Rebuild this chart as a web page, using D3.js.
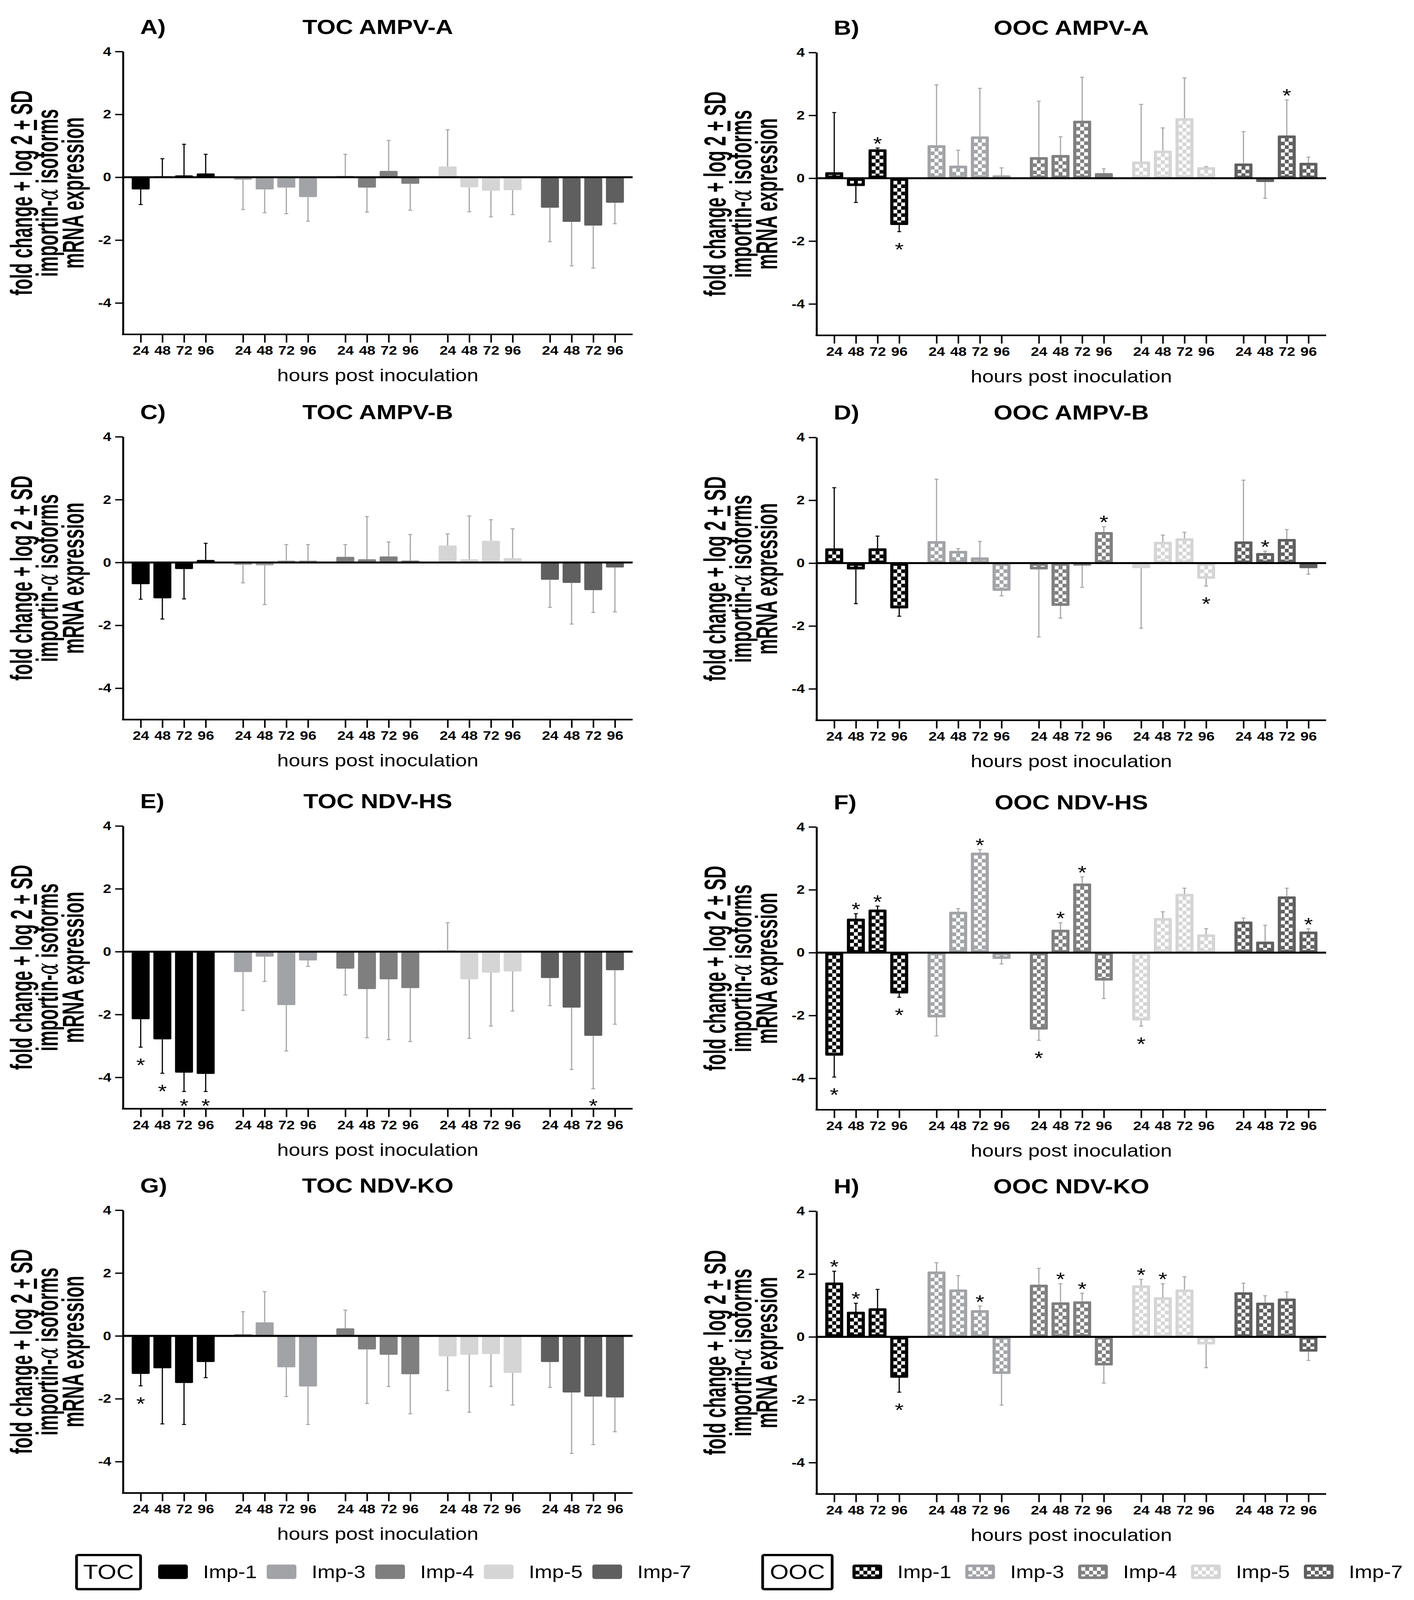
<!DOCTYPE html>
<html>
<head>
<meta charset="utf-8">
<script src="https://cdn.jsdelivr.net/npm/d3@7"></script>
<style>
  html, body { margin: 0; padding: 0; background: #fff; overflow: hidden; }
  svg { display: block; }
  text { font-family: "Liberation Sans", Arial, sans-serif; fill: #000; }
</style>
</head>
<body>
<script>
// categories
var isoforms = ["Imp-1", "Imp-3", "Imp-4", "Imp-5", "Imp-7"];
var hours = ["24", "48", "72", "96"];
var yTicks = [4, 2, 0, -2, -4];
var letters = ["A)", "B)", "C)", "D)", "E)", "F)", "G)", "H)"];
var titles = ["TOC AMPV-A", "OOC AMPV-A", "TOC AMPV-B", "OOC AMPV-B",
              "TOC NDV-HS", "OOC NDV-HS", "TOC NDV-KO", "OOC NDV-KO"];

// mean log2 fold change, one row per isoform, columns 24/48/72/96 h
var meanA = [[-0.39, 0.03, 0.06, 0.12], [-0.08, -0.39, -0.33, -0.63], [0.04, -0.33, 0.20, -0.21], [0.34, -0.32, -0.43, -0.41], [-0.97, -1.42, -1.54, -0.81]];
var sdA   = [[0.48, 0.56, 0.99, 0.61], [0.95, 0.74, 0.83, 0.77], [0.69, 0.78, 0.97, 0.84], [1.17, 0.78, 0.83, 0.78], [1.08, 1.40, 1.35, 0.67]];
var starA = [];

var meanB = [[0.19, -0.25, 0.92, -1.49], [1.05, 0.40, 1.33, 0.09], [0.67, 0.74, 1.83, 0.16], [0.53, 0.88, 1.91, 0.35], [0.47, -0.12, 1.36, 0.49]];
var sdB   = [[1.90, 0.52, 0.04, 0.21], [1.92, 0.49, 1.53, 0.24], [1.78, 0.58, 1.38, 0.14], [1.82, 0.72, 1.28, 0.02], [1.01, 0.52, 1.13, 0.18]];
var starB = [[0, 2], [0, 3], [4, 2]];

var meanC = [[-0.69, -1.14, -0.21, 0.08], [-0.08, -0.09, 0.06, 0.06], [0.18, 0.10, 0.19, 0.06], [0.54, 0.10, 0.69, 0.14], [-0.55, -0.65, -0.88, -0.16]];
var sdC   = [[0.48, 0.66, 0.95, 0.53], [0.57, 1.25, 0.51, 0.51], [0.39, 1.36, 0.46, 0.83], [0.37, 1.38, 0.67, 0.93], [0.88, 1.31, 0.71, 1.41]];
var starC = [];

var meanD = [[0.47, -0.20, 0.47, -1.44], [0.70, 0.39, 0.18, -0.88], [-0.20, -1.36, -0.08, 0.99], [-0.16, 0.68, 0.79, -0.50], [0.69, 0.32, 0.77, -0.16]];
var sdD   = [[1.93, 1.09, 0.39, 0.25], [1.97, 0.07, 0.51, 0.16], [2.15, 0.39, 0.69, 0.17], [1.91, 0.21, 0.19, 0.23], [1.95, 0.06, 0.30, 0.19]];
var starD = [[2, 3], [3, 3], [4, 1]];

var meanE = [[-2.15, -2.79, -3.85, -3.89], [-0.65, -0.16, -1.70, -0.28], [-0.54, -1.19, -0.88, -1.16], [0.05, -0.88, -0.67, -0.63], [-0.84, -1.78, -2.68, -0.59]];
var sdE   = [[0.89, 1.08, 0.60, 0.56], [1.22, 0.79, 1.46, 0.19], [0.84, 1.55, 1.92, 1.70], [0.87, 1.88, 1.70, 1.26], [0.88, 1.97, 1.68, 1.72]];
var starE = [[0, 0], [0, 1], [0, 2], [0, 3], [4, 2]];

var meanF = [[-3.28, 1.08, 1.37, -1.30], [-2.06, 1.30, 3.18, -0.20], [-2.45, 0.73, 2.20, -0.89], [-2.16, 1.10, 1.87, 0.58], [0.99, 0.35, 1.79, 0.67]];
var sdF   = [[0.68, 0.16, 0.11, 0.12], [0.59, 0.10, 0.10, 0.16], [0.34, 0.22, 0.21, 0.57], [0.18, 0.20, 0.18, 0.18], [0.11, 0.52, 0.26, 0.09]];
var starF = [[0, 0], [0, 1], [0, 2], [0, 3], [1, 2], [2, 0], [2, 1], [2, 2], [3, 0], [4, 3]];

var meanG = [[-1.21, -1.03, -1.50, -0.83], [0.06, 0.43, -1.00, -1.61], [0.24, -0.43, -0.60, -1.22], [-0.65, -0.60, -0.58, -1.18], [-0.83, -1.80, -1.93, -1.96]];
var sdG   = [[0.38, 1.77, 1.32, 0.50], [0.71, 0.98, 0.93, 1.21], [0.58, 1.72, 1.01, 1.26], [1.09, 1.83, 1.03, 1.02], [0.81, 1.94, 1.53, 1.09]];
var starG = [[0, 0]];

var meanH = [[1.73, 0.80, 0.91, -1.30], [2.08, 1.51, 0.85, -1.18], [1.66, 1.10, 1.13, -0.91], [1.64, 1.26, 1.51, -0.24], [1.42, 1.09, 1.22, -0.47]];
var sdH   = [[0.36, 0.27, 0.60, 0.46], [0.28, 0.44, 0.13, 0.99], [0.52, 0.59, 0.26, 0.56], [0.19, 0.43, 0.40, 0.74], [0.29, 0.22, 0.21, 0.28]];
var starH = [[0, 0], [0, 1], [0, 3], [1, 2], [2, 1], [2, 2], [3, 0], [3, 1]];

var isoColors = ["#000000", "#a2a3a6", "#7f7f7f", "#d5d5d5", "#5f5f5f"];
var errColor = "#a6a6a6";

function init() {
  var W = 3621, H = 4876;
  var plotW = 1305, plotH = 862;
  var colX0 = [315, 2091];
  var rowTop = [[157, 160], [1331, 1333], [2517, 2520], [3688, 3691]];

  var panels = [
    {mean: meanA, sd: sdA, star: starA}, {mean: meanB, sd: sdB, star: starB},
    {mean: meanC, sd: sdC, star: starC}, {mean: meanD, sd: sdD, star: starD},
    {mean: meanE, sd: sdE, star: starE}, {mean: meanF, sd: sdF, star: starF},
    {mean: meanG, sd: sdG, star: starG}, {mean: meanH, sd: sdH, star: starH}
  ];

  // the viewport is shorter than the figure, so stretch the figure to fill it
  var vw = window.innerWidth || W, vh = window.innerHeight || H;
  var svg = d3.select("body").append("svg")
    .attr("width", vw)
    .attr("height", vh)
    .attr("viewBox", "0 0 " + W + " " + H)
    .attr("preserveAspectRatio", "none");

  // checker patterns for the OOC bars
  var defs = svg.append("defs");
  isoColors.forEach(function(c, i) {
    var p = defs.append("pattern")
      .attr("id", "chk" + i)
      .attr("patternUnits", "userSpaceOnUse")
      .attr("x", 8).attr("y", 8)
      .attr("width", 20).attr("height", 22);
    p.append("rect").attr("width", 20).attr("height", 22).attr("fill", c);
    p.append("rect").attr("width", 10).attr("height", 11).attr("fill", "#fff");
    p.append("rect").attr("x", 10).attr("y", 11).attr("width", 10).attr("height", 11).attr("fill", "#fff");
  });

  panels.forEach(function(p, idx) {
    var col = idx % 2, row = Math.floor(idx / 2);
    var ooc = col === 1;
    var g = svg.append("g")
      .attr("transform", "translate(" + colX0[col] + "," + rowTop[row][col] + ")");

    var y = d3.scaleLinear().domain([-5, 4]).range([plotH, 0]);
    var xg = d3.scaleBand().domain(isoforms).range([0, plotW])
      .paddingInner(0.153).paddingOuter(0.067);
    var xh = d3.scaleBand().domain(hours).range([0, xg.bandwidth()])
      .paddingInner(0.17).paddingOuter(0.085);
    var bw = xh.bandwidth();

    var rows = [];
    isoforms.forEach(function(iso, k) {
      hours.forEach(function(h, j) {
        var s = p.star.some(function(a) { return a[0] === k && a[1] === j; });
        rows.push({iso: iso, k: k, h: h, v: p.mean[k][j], sd: p.sd[k][j], star: s});
      });
    });

    // bars
    var bars = g.selectAll(".bar")
      .data(rows)
      .enter()
      .append("g")
      .attr("class", "bar")
      .attr("transform", function(d) {
        return "translate(" + (xg(d.iso) + xh(d.h)) + "," + Math.min(y(0), y(d.v)) + ")";
      });
    bars.append("rect")
      .attr("width", bw)
      .attr("height", function(d) { return Math.abs(y(d.v) - y(0)); })
      .attr("rx", 3)
      .attr("fill", function(d) { return isoColors[d.k]; });
    if (ooc) {
      bars.append("rect")
        .attr("x", 8).attr("y", 8)
        .attr("width", bw - 16)
        .attr("height", function(d) { return Math.max(0, Math.abs(y(d.v) - y(0)) - 16); })
        .attr("fill", function(d) { return "url(#chk" + d.k + ")"; });
    }

    // one-sided error bars
    function errEnd(d) {
      return d.v >= 0 ? d.v + d.sd : d.v - d.sd;
    }
    function cx(d) { return xg(d.iso) + xh(d.h) + bw / 2; }
    var err = g.selectAll(".err")
      .data(rows)
      .enter()
      .append("g")
      .attr("class", "err")
      .attr("stroke", function(d) { return d.k === 0 ? "#000" : errColor; })
      .attr("stroke-width", 3);
    err.append("line")
      .attr("x1", cx).attr("x2", cx)
      .attr("y1", function(d) { return y(d.v); })
      .attr("y2", function(d) { return y(errEnd(d)); });
    err.append("line")
      .attr("x1", function(d) { return cx(d) - 5; })
      .attr("x2", function(d) { return cx(d) + 5; })
      .attr("y1", function(d) { return y(errEnd(d)); })
      .attr("y2", function(d) { return y(errEnd(d)); });

    // significance stars
    g.selectAll(".star")
      .data(rows.filter(function(d) { return d.star; }))
      .enter()
      .append("text")
      .attr("class", "star")
      .attr("text-anchor", "middle")
      .attr("font-size", 58)
      .attr("x", cx)
      .attr("y", function(d) {
        var c = d.v >= 0 ? y(errEnd(d)) - 28 : Math.min(y(errEnd(d)) + 40, plotH - 24);
        return c + 34;
      })
      .text("*");

    // zero line
    g.append("line")
      .attr("x1", 0).attr("x2", plotW)
      .attr("y1", y(0)).attr("y2", y(0))
      .attr("stroke", "#000")
      .attr("stroke-width", 6);

    // y axis
    var ya = g.append("g")
      .call(d3.axisLeft(y).tickValues(yTicks).tickSize(20).tickSizeOuter(0).tickPadding(10)
        .tickFormat(function(d) { return String(d); }));
    ya.select(".domain").attr("stroke-width", 5);
    ya.selectAll(".tick line").attr("stroke-width", 4);
    ya.selectAll(".tick text")
      .attr("font-size", 38)
      .attr("font-weight", "bold")
      .attr("font-family", "Liberation Sans, Arial, sans-serif")
      .attr("fill", "#000");

    // x axis (one tick per bar)
    var keys = [], centers = [];
    isoforms.forEach(function(iso) {
      hours.forEach(function(h) {
        keys.push(iso + "|" + h);
        centers.push(xg(iso) + xh(h) + bw / 2);
      });
    });
    var xTick = d3.scaleOrdinal().domain(keys).range(centers);
    var xa = g.append("g")
      .attr("transform", "translate(0," + plotH + ")")
      .call(d3.axisBottom(xTick).tickSize(25).tickPadding(10)
        .tickFormat(function(d) { return d.split("|")[1]; }));
    xa.select(".domain").remove();
    xa.selectAll(".tick line").attr("stroke-width", 4);
    xa.selectAll(".tick text")
      .attr("font-size", 38)
      .attr("font-weight", "bold")
      .attr("font-family", "Liberation Sans, Arial, sans-serif")
      .attr("fill", "#000");
    g.append("line")
      .attr("x1", -2.5).attr("x2", plotW)
      .attr("y1", plotH).attr("y2", plotH)
      .attr("stroke", "#000")
      .attr("stroke-width", 5);

    // titles
    g.append("text")
      .attr("x", 44).attr("y", -54)
      .attr("font-size", 62)
      .attr("font-weight", "bold")
      .text(letters[idx]);
    g.append("text")
      .attr("x", plotW / 2).attr("y", -54)
      .attr("text-anchor", "middle")
      .attr("font-size", 62)
      .attr("font-weight", "bold")
      .text(titles[idx]);
    g.append("text")
      .attr("x", plotW / 2).attr("y", plotH + 143)
      .attr("text-anchor", "middle")
      .attr("font-size", 53)
      .text("hours post inoculation");

    // y label: three rotated lines, squeezed along their length
    var squeeze = 0.69;
    function ylab(bx) {
      return g.append("text")
        .attr("transform", "translate(" + bx + "," + (plotH / 2) + ") scale(1," + squeeze + ") rotate(-90)")
        .attr("text-anchor", "middle")
        .attr("font-size", 78)
        .attr("font-weight", "bold");
    }
    var l1 = ylab(-233);
    l1.append("tspan").text("fold change + log 2 ");
    l1.append("tspan").attr("text-decoration", "underline").text("+");
    l1.append("tspan").text(" SD");
    var l2 = ylab(-167);
    l2.append("tspan").text("importin-");
    l2.append("tspan")
      .attr("font-family", "DejaVu Serif, serif")
      .attr("font-style", "italic")
      .attr("font-weight", "normal")
      .text("α");
    l2.append("tspan").text(" isoforms");
    ylab(-101).text("mRNA expression");
  });

  // legends
  var legends = [
    {label: "TOC", box: [196, 360], sw: 405, step: 278, ooc: false},
    {label: "OOC", box: [1953, 2131], sw: 2183, step: 289, ooc: true}
  ];
  legends.forEach(function(L) {
    var lg = svg.append("g").attr("transform", "translate(0,4790)");
    lg.append("rect")
      .attr("x", L.box[0]).attr("y", -51)
      .attr("width", L.box[1] - L.box[0]).attr("height", 104)
      .attr("rx", 4)
      .attr("fill", "none")
      .attr("stroke", "#000")
      .attr("stroke-width", 7);
    lg.append("text")
      .attr("x", (L.box[0] + L.box[1]) / 2).attr("y", 22)
      .attr("text-anchor", "middle")
      .attr("font-size", 62)
      .text(L.label);
    var items = lg.selectAll(".item")
      .data(isoforms)
      .enter()
      .append("g")
      .attr("transform", function(d, i) { return "translate(" + (L.sw + i * L.step) + ",-22)"; });
    items.append("rect")
      .attr("width", 76).attr("height", 44)
      .attr("rx", 6)
      .attr("fill", function(d, i) { return isoColors[i]; });
    if (L.ooc) {
      items.append("rect")
        .attr("x", 8).attr("y", 8)
        .attr("width", 60).attr("height", 28)
        .attr("fill", function(d, i) { return "url(#chk" + i + ")"; });
    }
    items.append("text")
      .attr("x", 115).attr("y", 41)
      .attr("font-size", 54)
      .text(function(d) { return d; });
  });
}

window.onload = init;
</script>
</body>
</html>
